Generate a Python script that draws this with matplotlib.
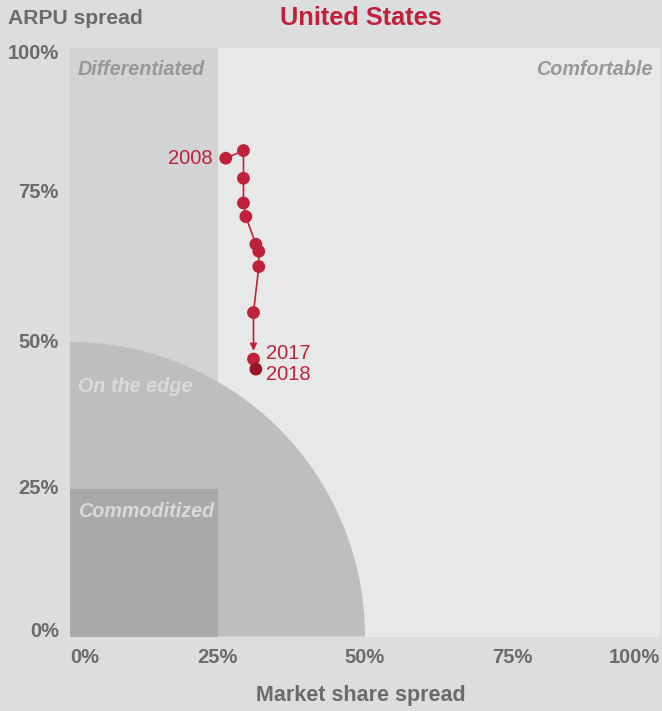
import matplotlib
matplotlib.use("Agg")
import matplotlib.pyplot as plt
from matplotlib.patches import Rectangle, Wedge
from matplotlib.transforms import ScaledTranslation

years = [2008, 2009, 2010, 2011, 2012, 2013, 2014, 2015, 2016, 2017, 2018]
market_share = [26.4, 29.4, 29.4, 29.4, 29.8, 31.5, 32.0, 32.0, 31.1, 31.1, 31.5]
arpu = [81.2, 82.5, 77.8, 73.6, 71.3, 66.6, 65.4, 62.8, 55.0, 47.1, 45.4]
tick_vals = [0, 25, 50, 75, 100]
tick_labels = ["0%", "25%", "50%", "75%", "100%"]

plt.rcParams['font.family'] = ['Liberation Sans', 'DejaVu Sans']

RED = "#c0213a"
DARKRED = "#961627"
GRAY_TXT = "#6a6b6d"
FIG_BG = "#dcdddf"

fig = plt.figure(figsize=(6.62, 7.11), dpi=100, facecolor=FIG_BG)
ax = fig.add_axes([70/662, (711-636.5)/711, 590/662, 589/711])
ax.set_xlim(0, 100)
ax.set_ylim(0, 100)
ax.set_facecolor("#e7e8e8")
for s in ax.spines.values():
    s.set_visible(False)

# regions
ax.add_patch(Rectangle((0, 0), 25, 100, facecolor="#d2d3d5", edgecolor="none", zorder=1))
ax.add_patch(Wedge((0, 0), 50, 0, 90, facecolor="#bdbec0", edgecolor="none", zorder=2))
ax.add_patch(Rectangle((0, 0), 25, 25, facecolor="#a8a9ab", edgecolor="none", zorder=3))

lab_kw = dict(fontsize=14.2, fontweight='bold', fontstyle='italic', zorder=4)
ax.text(1.3, 96.3, "Differentiated", color="#97989a", ha='left', va='center', **lab_kw)
ax.text(98.7, 96.3, "Comfortable", color="#97989a", ha='right', va='center', **lab_kw)
ax.text(1.3, 42.5, "On the edge", color="#d9dadc", ha='left', va='center', **lab_kw)
ax.text(1.3, 21.3, "Commoditized", color="#d9dadc", ha='left', va='center', **lab_kw)

# path line
ax.plot(market_share[:9], arpu[:9], color=RED, lw=1.2, zorder=5)
ax.annotate("", xy=(market_share[9], arpu[9]), xytext=(market_share[8], arpu[8]),
            arrowprops=dict(arrowstyle='-|>', color=RED, lw=1.2, shrinkA=0, shrinkB=6,
                            mutation_scale=10), zorder=5)
ax.scatter(market_share[:10], arpu[:10], s=85, color=RED, zorder=6, edgecolors='none')
ax.scatter(market_share[10:], arpu[10:], s=85, color=DARKRED, zorder=6, edgecolors='none')

yr_kw = dict(color=RED, fontsize=14.5, zorder=7)
ax.text(market_share[0] - 2.2, arpu[0], str(years[0]), ha='right', va='center', **yr_kw)
ax.text(market_share[9] + 2.2, arpu[9] + 0.9, str(years[9]), ha='left', va='center', **yr_kw)
ax.text(market_share[10] + 1.8, arpu[10] - 0.9, str(years[10]), ha='left', va='center', **yr_kw)

# ticks
ax.set_xticks(tick_vals)
ax.set_xticklabels(tick_labels)
ax.set_yticks(tick_vals)
ax.set_yticklabels(tick_labels)
ax.tick_params(length=0, labelsize=14.5, labelcolor=GRAY_TXT)
ax.tick_params(axis='x', pad=8)
ax.tick_params(axis='y', pad=8)
for lab in ax.get_xticklabels() + ax.get_yticklabels():
    lab.set_fontweight('bold')
xl = ax.get_xticklabels()
xl[0].set_horizontalalignment('left')
xl[-1].set_horizontalalignment('right')
# fine vertical offsets (pixels, positive = up) for y tick labels
y_offsets = [7, 3, 2, 4, -4]
for lab, dy in zip(ax.get_yticklabels(), y_offsets):
    lab.set_transform(lab.get_transform() + ScaledTranslation(0, dy / 100, fig.dpi_scale_trans))

fig.text(8/662, 1 - 18/711, "ARPU spread", color=GRAY_TXT, fontsize=15.2, fontweight='bold',
         ha='left', va='center')
fig.text(361/662, 1 - 18/711, "United States", color=RED, fontsize=18.3, fontweight='bold',
         ha='center', va='center')
fig.text(361/662, 1 - 695/711, "Market share spread", color=GRAY_TXT, fontsize=15.5,
         fontweight='bold', ha='center', va='center')

fig.savefig("out.png", dpi=100, facecolor=FIG_BG)
